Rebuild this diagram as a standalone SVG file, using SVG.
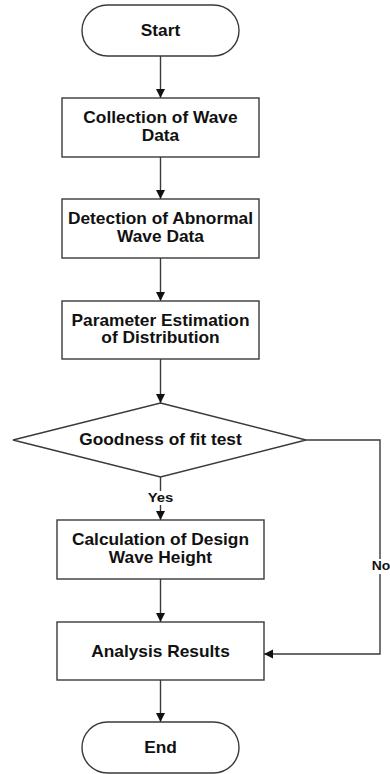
<svg xmlns="http://www.w3.org/2000/svg" width="390" height="774" viewBox="0 0 390 774">
<style>
.shape{fill:#fff;stroke:#3a3a3a;stroke-width:1.4}
.line{fill:none;stroke:#3a3a3a;stroke-width:1.4}
.t{font-family:"Liberation Sans",Arial,sans-serif;font-weight:bold;font-size:16.5px;fill:#111;text-anchor:middle}
.s{font-family:"Liberation Sans",Arial,sans-serif;font-weight:bold;font-size:13.5px;fill:#111}
</style>
<defs>
<marker id="arr" markerUnits="userSpaceOnUse" markerWidth="10" markerHeight="10" refX="9" refY="4.5" orient="auto">
<path d="M0,0 L9,4.5 L0,9 z" fill="#111"/>
</marker>
</defs>
<rect width="390" height="774" fill="#fff"/>
<g id="connectors">
<line class="line" x1="160.5" y1="56" x2="160.5" y2="98" marker-end="url(#arr)"/>
<line class="line" x1="160.5" y1="157" x2="160.5" y2="199" marker-end="url(#arr)"/>
<line class="line" x1="160.5" y1="258" x2="160.5" y2="301" marker-end="url(#arr)"/>
<line class="line" x1="160.5" y1="359" x2="160.5" y2="403" marker-end="url(#arr)"/>
<line class="line" x1="160.5" y1="477" x2="160.5" y2="520" marker-end="url(#arr)"/>
<line class="line" x1="160.5" y1="579" x2="160.5" y2="622" marker-end="url(#arr)"/>
<line class="line" x1="160.5" y1="680" x2="160.5" y2="722" marker-end="url(#arr)"/>
<polyline class="line" points="306,440 380,440 380,654 264,654" marker-end="url(#arr)"/>
<g id="label-yes">
<rect x="145" y="491" width="31" height="14" fill="#fff"/>
<text class="s" x="160.5" y="502.5" text-anchor="middle" transform="matrix(1.1 0 0 1 -16.05 0)">Yes</text>
</g>
<g id="label-no">
<rect x="371" y="559" width="19" height="15" fill="#fff"/>
<text class="s" x="371.7" y="570" transform="matrix(1.03 0 0 1 -11.15 0)">No</text>
</g>
</g>
<g id="start">
<rect class="shape" x="82" y="5" width="157" height="51" rx="25.5" ry="25.5"/>
<text class="t" x="160.5" y="36.4" transform="matrix(1.05 0 0 1 -8.03 0)">Start</text>
</g>
<g id="collection">
<rect class="shape" x="62" y="98" width="197" height="59"/>
<text class="t" x="160.5" y="123.5" transform="matrix(1.05 0 0 1 -8.03 0)">Collection of Wave</text>
<text class="t" x="160.5" y="141" transform="matrix(1.05 0 0 1 -8.03 0)">Data</text>
</g>
<g id="detection">
<rect class="shape" x="62" y="199" width="197" height="59"/>
<text class="t" x="160.5" y="224.5" transform="matrix(1.05 0 0 1 -8.03 0)">Detection of Abnormal</text>
<text class="t" x="160.5" y="242" transform="matrix(1.05 0 0 1 -8.03 0)">Wave Data</text>
</g>
<g id="parameter">
<rect class="shape" x="62" y="301" width="197" height="58"/>
<text class="t" x="160.5" y="325.8" transform="matrix(1.05 0 0 1 -8.03 0)">Parameter Estimation</text>
<text class="t" x="160.5" y="343.3" transform="matrix(1.05 0 0 1 -8.03 0)">of Distribution</text>
</g>
<g id="goodness">
<polygon class="shape" points="160.5,403 306,440 160.5,477 13,440"/>
<text class="t" x="160.5" y="445.5" transform="matrix(1.05 0 0 1 -8.03 0)">Goodness of fit test</text>
</g>
<g id="calculation">
<rect class="shape" x="57" y="520" width="207" height="59"/>
<text class="t" x="160.5" y="545.5" transform="matrix(1.05 0 0 1 -8.03 0)">Calculation of Design</text>
<text class="t" x="160.5" y="563" transform="matrix(1.05 0 0 1 -8.03 0)">Wave Height</text>
</g>
<g id="analysis">
<rect class="shape" x="57" y="622" width="207" height="58"/>
<text class="t" x="160.5" y="656.8" transform="matrix(1.05 0 0 1 -8.03 0)">Analysis Results</text>
</g>
<g id="end">
<rect class="shape" x="82" y="722" width="157" height="51" rx="25.5" ry="25.5"/>
<text class="t" x="160.5" y="753.2" transform="matrix(1.05 0 0 1 -8.03 0)">End</text>
</g>
</svg>
